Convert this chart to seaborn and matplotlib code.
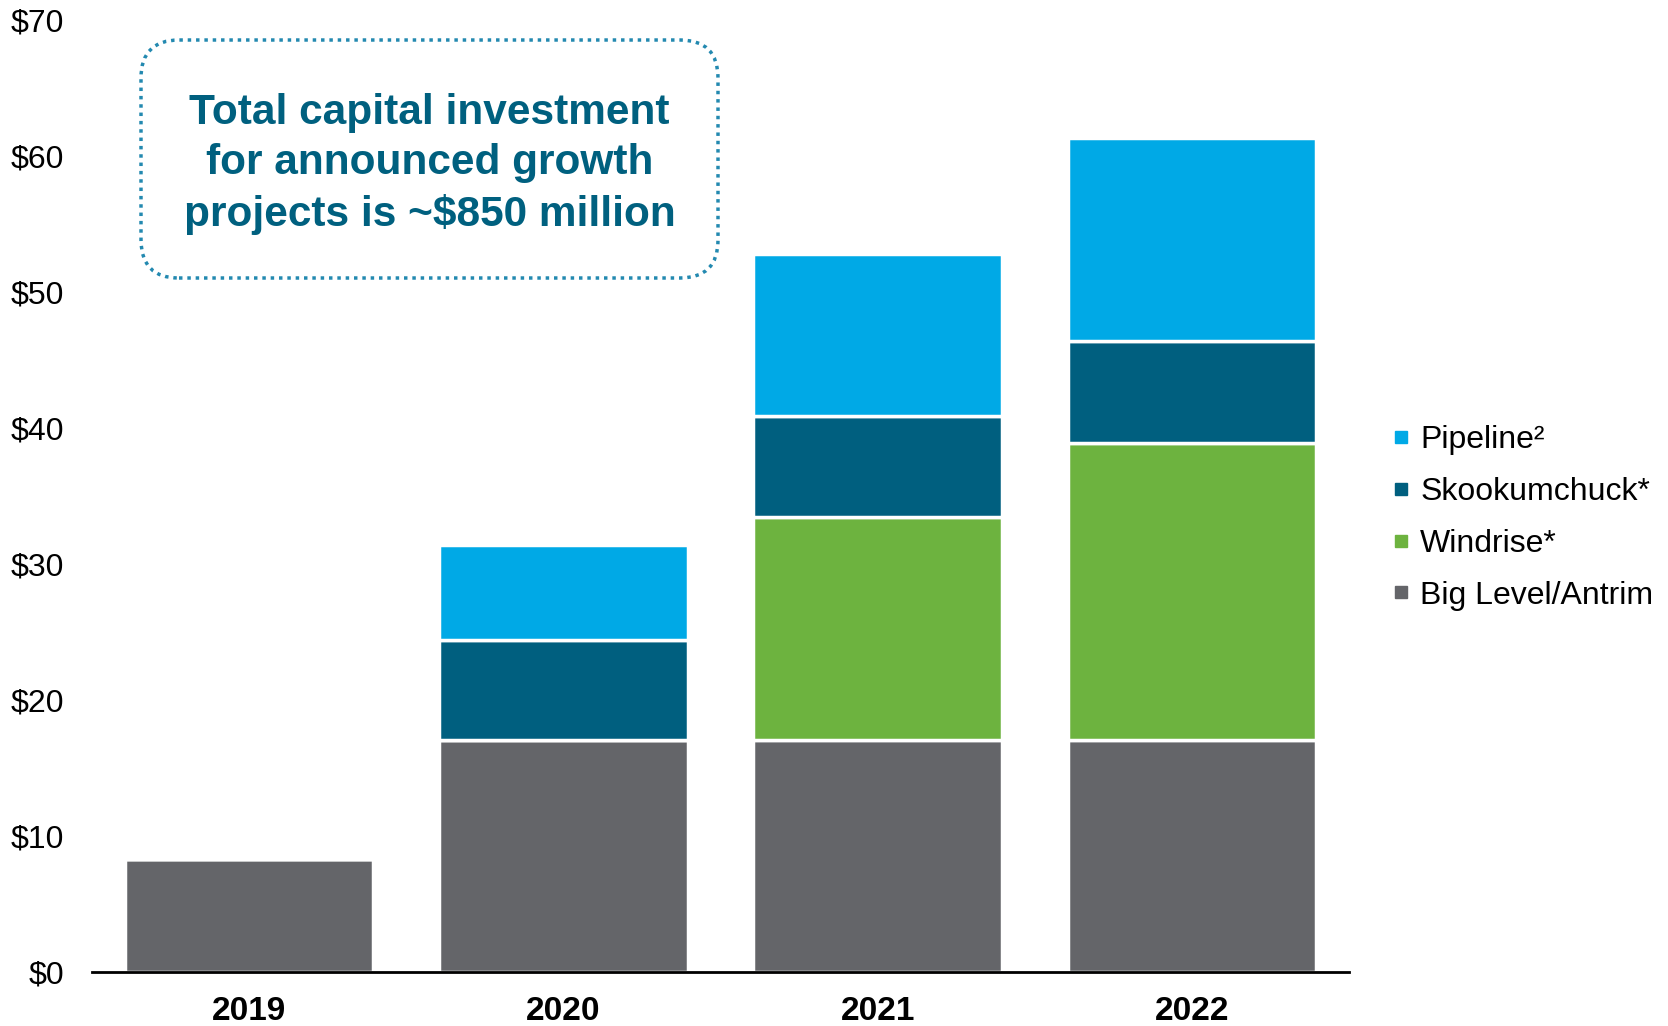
import numpy as np
import pandas as pd
import seaborn as sns
import matplotlib
matplotlib.use("Agg")
import matplotlib.pyplot as plt
from matplotlib.patches import FancyBboxPatch
from matplotlib.lines import Line2D

years = ["2019", "2020", "2021", "2022"]
big_level = [8.3, 17.0, 17.0, 17.0]
windrise = [0.0, 0.0, 16.4, 21.9]
skookumchuck = [0.0, 7.4, 7.5, 7.5]
pipeline = [0.0, 7.0, 11.9, 14.9]

series_names = ["Big Level/Antrim", "Windrise*", "Skookumchuck*", "Pipeline²"]
series_values = [big_level, windrise, skookumchuck, pipeline]
series_colors = ["#646569", "#6DB33F", "#005F7F", "#00A9E6"]

yticks = [0, 10, 20, 30, 40, 50, 60, 70]
ytick_labels = ["$0", "$10", "$20", "$30", "$40", "$50", "$60", "$70"]

sns.set_theme(style="white")
plt.rcParams["font.family"] = ["Liberation Sans", "DejaVu Sans"]

W, H = 1668, 1026
fig = plt.figure(figsize=(W / 100, H / 100), dpi=100)
ax = fig.add_axes([92 / W, 1 - 971.5 / H, (1349 - 92) / W, (971.5 - 20) / H])

bottom = np.zeros(len(years))
for name, vals, col in zip(series_names, series_values, series_colors):
    df = pd.DataFrame({"year": years, "value": vals})
    sns.barplot(data=df, x="year", y="value", order=years, color=col,
                bottom=bottom, width=0.79, edgecolor="white", linewidth=2.5,
                saturation=1, ax=ax, errorbar=None)
    bottom = bottom + np.array(vals)

ax.set_xlim(-0.5, 3.5)
ax.set_ylim(0, 70)
ax.set_yticks(yticks)
ax.set_yticklabels(ytick_labels, fontsize=23, color="black")
ax.set_xlabel("")
ax.set_ylabel("")
for lab in ax.get_xticklabels():
    lab.set_fontsize(24)
    lab.set_fontweight("bold")
    lab.set_color("black")
ax.tick_params(axis="y", length=0, pad=20)
ax.tick_params(axis="x", length=0, pad=18)
for s in ["top", "right", "left"]:
    ax.spines[s].set_visible(False)
ax.spines["bottom"].set_color("black")
ax.spines["bottom"].set_linewidth(2)
ax.grid(False)

# legend (reverse order)
handles = [Line2D([0], [0], marker="s", linestyle="none", markersize=9,
                  markerfacecolor=c, markeredgecolor=c)
           for c in reversed(series_colors)]
labels = list(reversed(series_names))
fig.legend(handles, labels, loc="center left", bbox_to_anchor=(1377 / W, 1 - 518 / H),
           frameon=False, fontsize=23, handlelength=0.5, handletextpad=0.35,
           labelspacing=0.68, borderpad=0, labelcolor="black")

# callout box in pixel coordinates
box = FancyBboxPatch((141, H - 278), 718 - 141, 278 - 40,
                     boxstyle="round,pad=0,rounding_size=38",
                     transform=None, facecolor="white", edgecolor="#2389B0",
                     linewidth=2.5, linestyle=(0, (1, 1.4)))
fig.patches.append(box)
fig.text(429.5 / W, 1 - 164 / H,
         "Total capital investment\nfor announced growth\nprojects is ~$850 million",
         ha="center", va="center", fontsize=30.5, fontweight="bold",
         color="#00607F", linespacing=1.34)

fig.savefig("out.png", dpi=100)
